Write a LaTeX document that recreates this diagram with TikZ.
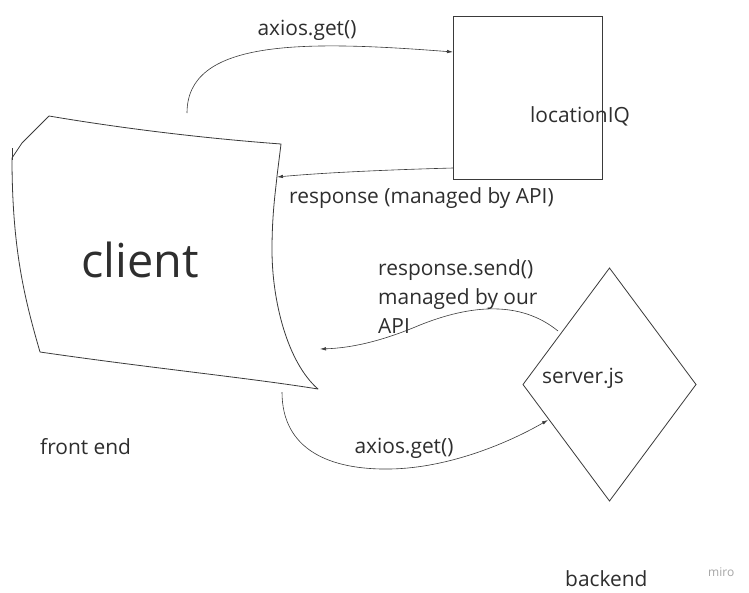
\documentclass[tikz,border=0pt]{standalone}
\usepackage{fontspec}
\setmainfont{Open Sans}
\usetikzlibrary{arrows.meta,shapes.geometric}
\definecolor{ink}{HTML}{2E2E2E}
\definecolor{lineclr}{HTML}{3A3A3A}
\begin{document}
\begin{tikzpicture}[x=1pt,y=-1pt,
  lbl/.style={text=ink,font=\fontsize{20.9}{29}\selectfont,inner sep=0pt},
  conn/.style={draw=lineclr,line width=0.6pt,-{Latex[length=6pt,width=3.5pt]}},
  shp/.style={draw=lineclr,line width=0.8pt}]
\useasboundingbox[fill=white] (0,0) rectangle (749,592);
% client shape
\draw[shp,line join=round] (49,116) -- (22,143) -- (12,158)
  .. controls (12,250) and (25,300) .. (40,352)
  .. controls (150,368) and (250,378) .. (318,389)
  .. controls (287,362) and (272,300) .. (272,250)
  .. controls (272,212) and (276,188) .. (277,176) -- (281,144)
  .. controls (200,138) and (120,128) .. (49,116);
\draw[shp] (12,148) -- (12,160);
\node[inner sep=0pt,text=ink,font=\fontsize{46.8}{52}\selectfont] (client) at (140,260) {client};
% locationIQ box
\node[shp,minimum width=149pt,minimum height=163pt,inner sep=0pt,outer sep=0pt] (loc) at (527.5,97.5) {};
\node[lbl,anchor=west] (loclbl) at (530,116) {locationIQ};
% server diamond
\node[shp,diamond,minimum width=173pt,minimum height=233pt,inner sep=0pt,outer sep=0pt] (srv) at (609.5,384.5) {};
\node[lbl,anchor=west] (srvlbl) at (542,378) {server.js};
% endpoint coordinates
\coordinate (c1) at (187,113);
\coordinate (l1) at (453,52);
\coordinate (l2) at (453,168);
\coordinate (c2) at (277,177);
\coordinate (s1) at (558,331);
\coordinate (c3) at (320,349);
\coordinate (c4) at (282,392);
\coordinate (s2) at (548,420);
% connectors
\draw[conn] (c1) .. controls (187,40) and (300,40) .. (l1);
\draw[conn] (l2) .. controls (380,170) and (320,173) .. (c2);
\draw[conn] (s1) .. controls (520,300) and (470,305) .. (420,325)
  .. controls (380,342) and (350,348) .. (c3);
\draw[conn] (c4) .. controls (282,450) and (330,470) .. (390,469)
  .. controls (450,468) and (510,442) .. (s2);
% labels
\node[lbl] (t1) at (307,30) {axios.get()};
\node[lbl,anchor=west] (t2) at (289,198) {response (managed by API)};
\node[lbl,anchor=west,align=left] (t3) at (378,297) {response.send()\\managed by our\\API};
\node[lbl] (t4) at (404,448) {axios.get()};
\node[lbl,anchor=west] (t5) at (40,447) {front end};
\node[lbl,anchor=west] (t6) at (565,579) {backend};
\node[inner sep=0pt,anchor=west,text=black!35,font=\fontsize{12}{14}\selectfont] (t7) at (708,572) {miro};
\end{tikzpicture}
\end{document}
